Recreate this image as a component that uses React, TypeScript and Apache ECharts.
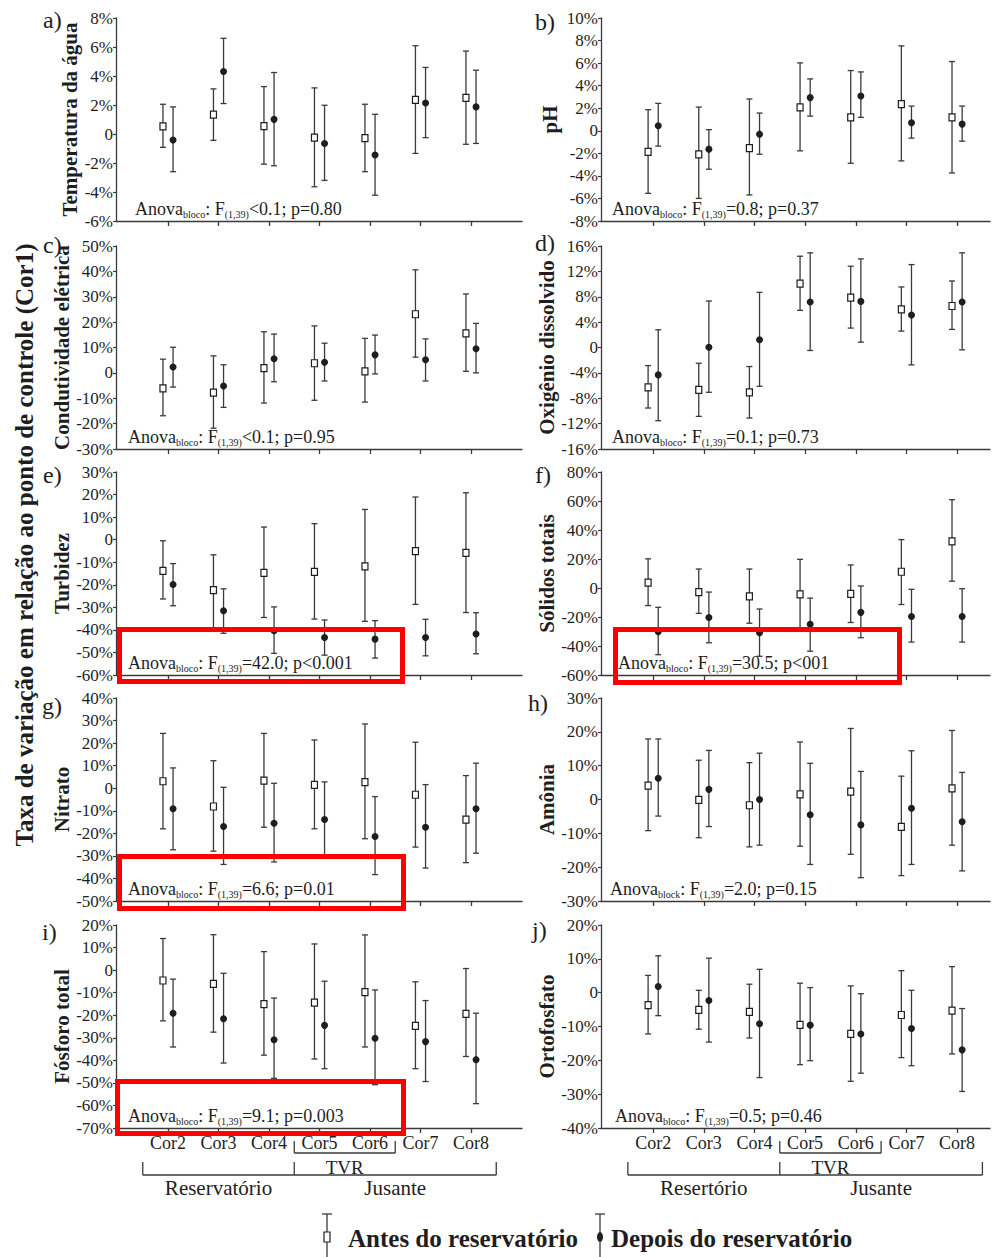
import { useEffect, useRef } from 'react';
import * as echarts from 'echarts';

// Sampling points downstream of the control point Cor1
const stations = ['Cor2', 'Cor3', 'Cor4', 'Cor5', 'Cor6', 'Cor7', 'Cor8'];

// Each row: [lower limit, mean, upper limit] of the variation rate (%) per station
const temperaturaAntes = [[-0.92, 0.53, 2.05], [-0.44, 1.34, 3.11], [-2.08, 0.55, 3.27], [-3.64, -0.25, 3.18], [-2.6, -0.28, 2.05], [-1.34, 2.35, 6.09], [-0.71, 2.49, 5.72]];
const temperaturaDepois = [[-2.6, -0.42, 1.87], [2.1, 4.31, 6.6], [-2.19, 1.01, 4.24], [-3.2, -0.65, 1.98], [-4.22, -1.45, 1.36], [-0.25, 2.14, 4.59], [-0.65, 1.87, 4.4]];

const phAntes = [[-5.55, -1.87, 1.87], [-6.0, -2.1, 2.1], [-5.69, -1.54, 2.82], [-1.78, 2.08, 6.02], [-2.88, 1.19, 5.34], [-2.67, 2.37, 7.53], [-3.74, 1.19, 6.14]];
const phDepois = [[-1.36, 0.44, 2.43], [-3.41, -1.63, 0.1], [-2.08, -0.3, 1.57], [1.3, 2.94, 4.6], [1.19, 3.08, 5.22], [-0.65, 0.71, 2.19], [-0.92, 0.59, 2.19]];

const condutividadeAntes = [[-16.9, -6.1, 5.4], [-21.8, -7.8, 6.7], [-11.9, 1.9, 16.2], [-10.8, 3.8, 18.5], [-11.5, 0.6, 13.6], [6.2, 23.1, 40.6], [0.6, 15.6, 31.1]];
const condutividadeDepois = [[-5.6, 2.3, 10.1], [-13.6, -5.2, 3.2], [-3.5, 5.6, 15.3], [-3.2, 4.2, 11.7], [-0.4, 7.1, 14.9], [-3.2, 5.2, 13.4], [0, 9.5, 19.5]];

const oxigenioAntes = [[-9.54, -6.27, -2.85], [-10.86, -6.69, -2.48], [-11.12, -7.06, -3.0], [5.85, 10.07, 14.39], [3.06, 7.85, 12.81], [2.58, 6.01, 9.54], [2.85, 6.54, 10.49]];
const oxigenioDepois = [[-11.54, -4.32, 2.79], [-7.06, 0.05, 7.33], [-6.11, 1.21, 8.7], [-0.47, 7.17, 14.92], [0.84, 7.27, 13.97], [-2.74, 5.11, 13.07], [-0.37, 7.17, 14.92]];

const turbidezAntes = [[-26.3, -13.8, -0.5], [-39, -22.4, -6.7], [-34.5, -14.7, 5.6], [-35.2, -14.3, 7.1], [-36.2, -11.8, 13.4], [-28.7, -5.1, 18.9], [-32.3, -5.9, 20.8]];
const turbidezDepois = [[-29.3, -19.9, -10.6], [-41.5, -31.5, -21.8], [-50.4, -40.4, -29.8], [-51.2, -43.4, -35.6], [-52.5, -44.1, -35.9], [-51.5, -43.4, -35.3], [-50.6, -41.8, -32.4]];

const solidosAntes = [[-12.1, 3.7, 20.1], [-17.5, -2.8, 13.1], [-24.3, -5.8, 13.1], [-28, -4.4, 19.8], [-23.8, -4.0, 15.9], [-11.4, 11.2, 33.4], [4.7, 32.2, 60.9]];
const solidosDepois = [[-46, -30.1, -13.3], [-37.8, -20.3, -2.8], [-47.1, -30.8, -14.5], [-43.6, -25, -7], [-34.3, -16.8, 1.4], [-37.3, -19.6, -0.9], [-37.3, -19.6, -0.5]];

const nitratoAntes = [[-18, 3.1, 24.3], [-27.9, -8.1, 12.2], [-17.3, 3.4, 24.3], [-18, 1.5, 21.4], [-22.4, 2.7, 28.5], [-26.1, -2.9, 20.4], [-33, -13.9, 5.6]];
const nitratoDepois = [[-27.3, -9.1, 9.0], [-33.8, -17, 0.4], [-32.7, -15.5, 2.2], [-30, -13.9, 2.8], [-38.3, -21.4, -3.7], [-35.4, -17.3, 1.6], [-28.8, -9.1, 11.1]];

const amoniaAntes = [[-9.2, 4.1, 17.9], [-11.3, -0.1, 11.6], [-14, -1.7, 10.9], [-13.8, 1.5, 17], [-16.2, 2.3, 21], [-22.5, -8.1, 6.9], [-13.5, 3.3, 20.4]];
const amoniaDepois = [[-4.9, 6.3, 17.9], [-8, 3, 14.5], [-13.5, 0, 13.7], [-19.2, -4.5, 10.7], [-23.1, -7.5, 8.3], [-19.2, -2.6, 14.4], [-21.1, -6.6, 8]];

const fosforoAntes = [[-22.5, -4.6, 14], [-27.5, -6.1, 15.7], [-37.7, -15.1, 8.2], [-39.4, -14.4, 11.6], [-34.1, -9.8, 15.6], [-43.7, -24.7, -5.2], [-38.3, -19.4, 0.7]];
const fosforoDepois = [[-34.1, -19.1, -4], [-41.2, -21.6, -1.4], [-48, -30.9, -12.4], [-43.7, -24.5, -4.9], [-50.8, -30.2, -8.8], [-49.4, -31.7, -13.5], [-59.2, -39.7, -19.1]];

const ortofosfatoAntes = [[-12.2, -3.7, 5.1], [-10.8, -5.1, 0.7], [-13.4, -5.7, 2.5], [-21.3, -9.5, 2.8], [-26.2, -12.2, 2.0], [-19.2, -6.6, 6.5], [-18.1, -5.3, 7.7]];
const ortofosfatoDepois = [[-6.8, 1.8, 10.9], [-14.6, -2.3, 10.2], [-25.1, -9.2, 6.9], [-20.1, -9.6, 1.5], [-23.8, -12.2, -0.3], [-21.6, -10.6, 0.7], [-29.2, -16.9, -4.7]];

// Station groups shown under the bottom panels (1-based station positions)
const tvrSpan = [4, 5];
const reservoirSpan = [1, 3];
const downstreamSpan = [4, 7];
const groupNamesLeft = ['Reservatório', 'Jusante'];
const groupNamesRight = ['Resertório', 'Jusante'];

const SERIF = "'Liberation Serif', 'Times New Roman', serif";
const LINE = '#3a3a3a';
const INK = '#1e1e1e';

const COL_LEFT = [116, 601];
const COL_WIDTH = [406, 389];
const COL_XMAX = [8.01, 7.65];
const ROW_TOP = [18, 246, 472, 698, 925];
const ROW_HEIGHT = 203;

const panels = [
  { letter: 'a)', name: 'Temperatura da água', antes: temperaturaAntes, depois: temperaturaDepois, min: -6, max: 8, step: 2, sub: 'bloco', stat: '<0.1; p=0.80', nameGap: 36, statX: 135, letterXY: [43, 20] },
  { letter: 'b)', name: 'pH', antes: phAntes, depois: phDepois, min: -8, max: 10, step: 2, sub: 'bloco', stat: '=0.8; p=0.37', nameGap: 41, statX: 612, letterXY: [535, 22] },
  { letter: 'c)', name: 'Condutividade elétrica', antes: condutividadeAntes, depois: condutividadeDepois, min: -30, max: 50, step: 10, sub: 'bloco', stat: '<0.1; p=0.95', nameGap: 33, statX: 128, letterXY: [43, 245] },
  { letter: 'd)', name: 'Oxigênio dissolvido', antes: oxigenioAntes, depois: oxigenioDepois, min: -16, max: 16, step: 4, sub: 'bloco', stat: '=0.1; p=0.73', nameGap: 39, statX: 612, letterXY: [535, 243] },
  { letter: 'e)', name: 'Turbidez', antes: turbidezAntes, depois: turbidezDepois, min: -60, max: 30, step: 10, sub: 'bloco', stat: '=42.0; p<0.001', nameGap: 43, statX: 128, letterXY: [43, 475] },
  { letter: 'f)', name: 'Sólidos totais', antes: solidosAntes, depois: solidosDepois, min: -60, max: 80, step: 20, sub: 'bloco', stat: '=30.5; p<001', nameGap: 41, statX: 618, letterXY: [535, 475] },
  { letter: 'g)', name: 'Nitrato', antes: nitratoAntes, depois: nitratoDepois, min: -50, max: 40, step: 10, sub: 'bloco', stat: '=6.6; p=0.01', nameGap: 43, statX: 128, letterXY: [42, 706] },
  { letter: 'h)', name: 'Amônia', antes: amoniaAntes, depois: amoniaDepois, min: -30, max: 30, step: 10, sub: 'block', stat: '=2.0; p=0.15', nameGap: 39, statX: 610, letterXY: [528, 703] },
  { letter: 'i)', name: 'Fósforo total', antes: fosforoAntes, depois: fosforoDepois, min: -70, max: 20, step: 10, sub: 'bloco', stat: '=9.1; p=0.003', nameGap: 43, statX: 128, letterXY: [42, 932] },
  { letter: 'j)', name: 'Ortofosfato', antes: ortofosfatoAntes, depois: ortofosfatoDepois, min: -40, max: 20, step: 10, sub: 'bloco', stat: '=0.5; p=0.46', nameGap: 42, statX: 615, letterXY: [532, 930] },
];

// Highlight boxes around the significant results (outer bounds)
const highlightBoxes = [
  [117, 627, 405, 684],
  [613, 627, 902, 685],
  [117, 854, 406, 911],
  [115, 1079, 406, 1136],
];

const positions = stations.map((_, i) => i + 1);

function errorBarRenderer(kind: 'antes' | 'depois') {
  return (_params: any, api: any) => {
    const x = api.value(0);
    const lo = api.coord([x, api.value(1)]);
    const mid = api.coord([x, api.value(2)]);
    const hi = api.coord([x, api.value(3)]);
    const cap = 3;
    const ls = { stroke: LINE, lineWidth: 1.3 };
    const marker =
      kind === 'antes'
        ? { type: 'rect', shape: { x: mid[0] - 3, y: mid[1] - 3.5, width: 6, height: 7 }, style: { fill: '#fff', stroke: INK, lineWidth: 1.2 } }
        : { type: 'circle', shape: { cx: mid[0], cy: mid[1], r: 3.5 }, style: { fill: INK } };
    return {
      type: 'group',
      children: [
        { type: 'line', shape: { x1: lo[0], y1: lo[1], x2: hi[0], y2: hi[1] }, style: ls },
        { type: 'line', shape: { x1: hi[0] - cap, y1: hi[1], x2: hi[0] + cap, y2: hi[1] }, style: ls },
        { type: 'line', shape: { x1: lo[0] - cap, y1: lo[1], x2: lo[0] + cap, y2: lo[1] }, style: ls },
        marker,
      ],
    };
  };
}

function groupBracketSeries(idx: number, yMin: number, names: string[]) {
  return {
    type: 'custom',
    xAxisIndex: idx,
    yAxisIndex: idx,
    silent: true,
    clip: false,
    data: [[1, yMin]],
    renderItem: (_params: any, api: any) => {
      const px = (v: number) => api.coord([v, yMin])[0];
      const y0 = api.coord([1, yMin])[1];
      const st = { stroke: LINE, lineWidth: 1.3, fill: 'none' };
      const ln = (x1: number, y1: number, x2: number, y2: number) => ({ type: 'line', shape: { x1, y1, x2, y2 }, style: st });
      const txt = (x: number, y: number, text: string, size: number) => ({
        type: 'text',
        x,
        y,
        style: { text, font: `${size}px ${SERIF}`, fill: INK, align: 'center', verticalAlign: 'middle', textAlign: 'center', textVerticalAlign: 'middle' },
      });
      const t0 = px(tvrSpan[0] - 0.5);
      const t1 = px(tvrSpan[1] + 0.5);
      const r0 = px(reservoirSpan[0] - 0.5);
      const r1 = px(reservoirSpan[1] + 0.5);
      const d1 = px(downstreamSpan[1] + 0.5);
      return {
        type: 'group',
        children: [
          ln(t0, y0 + 13, t0, y0 + 25),
          ln(t1, y0 + 13, t1, y0 + 25),
          ln(t0, y0 + 25, t1, y0 + 25),
          txt((t0 + t1) / 2, y0 + 39, 'TVR', 19),
          ln(r0, y0 + 34, r0, y0 + 47),
          ln(r1, y0 + 34, r1, y0 + 47),
          ln(d1, y0 + 34, d1, y0 + 47),
          ln(r0, y0 + 47, d1, y0 + 47),
          txt(px((reservoirSpan[0] + reservoirSpan[1]) / 2), y0 + 60, names[0], 21),
          txt(px((downstreamSpan[0] + downstreamSpan[1]) / 2), y0 + 60, names[1], 21),
        ],
      };
    },
  };
}

function buildOption() {
  const grid = panels.map((_, i) => ({
    left: COL_LEFT[i % 2],
    width: COL_WIDTH[i % 2],
    top: ROW_TOP[Math.floor(i / 2)],
    height: ROW_HEIGHT,
  }));

  const xAxis = panels.map((_, i) => ({
    type: 'value',
    gridIndex: i,
    min: -0.03,
    max: COL_XMAX[i % 2],
    axisLine: { show: true, onZero: false, lineStyle: { color: LINE, width: 1.3 } },
    axisTick: { show: true, customValues: positions, length: 5, lineStyle: { color: LINE, width: 1.3 } },
    axisLabel: {
      show: Math.floor(i / 2) === 4,
      customValues: positions,
      formatter: (v: number) => stations[Math.round(v) - 1] ?? '',
      margin: 6,
      fontFamily: SERIF,
      fontSize: 18,
      color: INK,
    },
    splitLine: { show: false },
  }));

  const yAxis = panels.map((p, i) => ({
    type: 'value',
    gridIndex: i,
    min: p.min,
    max: p.max,
    interval: p.step,
    axisLine: { show: true, onZero: false, lineStyle: { color: LINE, width: 1.3 } },
    axisTick: { show: true, length: 3, lineStyle: { color: LINE, width: 1.2 } },
    axisLabel: {
      formatter: (v: number) => (v === 0 ? '0' : `${v}%`),
      fontFamily: SERIF,
      fontSize: 17,
      color: INK,
      margin: 3,
    },
    splitLine: { show: false },
    name: p.name,
    nameLocation: 'middle',
    nameGap: p.nameGap,
    nameTextStyle: { fontFamily: SERIF, fontWeight: 'bold', fontSize: 21, color: INK },
  }));

  const series: any[] = [];
  panels.forEach((p, i) => {
    series.push({
      type: 'custom',
      name: 'Antes do reservatório',
      xAxisIndex: i,
      yAxisIndex: i,
      silent: true,
      encode: { x: 0, y: [1, 2, 3] },
      data: p.antes.map((r, k) => [positions[k] - 0.1, r[0], r[1], r[2]]),
      renderItem: errorBarRenderer('antes'),
    });
    series.push({
      type: 'custom',
      name: 'Depois do reservatório',
      xAxisIndex: i,
      yAxisIndex: i,
      silent: true,
      encode: { x: 0, y: [1, 2, 3] },
      data: p.depois.map((r, k) => [positions[k] + 0.1, r[0], r[1], r[2]]),
      renderItem: errorBarRenderer('depois'),
    });
  });
  series.push(groupBracketSeries(8, panels[8].min, groupNamesLeft));
  series.push(groupBracketSeries(9, panels[9].min, groupNamesRight));

  const elements: any[] = [];

  elements.push({
    type: 'text',
    x: 24,
    y: 545,
    rotation: Math.PI / 2,
    style: {
      text: 'Taxa de variação em relação ao ponto de controle (Cor1)',
      font: `bold 25px ${SERIF}`,
      fill: INK,
      align: 'center',
      verticalAlign: 'middle',
      textAlign: 'center',
      textVerticalAlign: 'middle',
    },
  });

  panels.forEach((p, i) => {
    const bottom = ROW_TOP[Math.floor(i / 2)] + ROW_HEIGHT;
    elements.push({
      type: 'text',
      x: p.letterXY[0],
      y: p.letterXY[1],
      style: { text: p.letter, font: `24px ${SERIF}`, fill: INK, align: 'left', verticalAlign: 'middle', textAlign: 'left', textVerticalAlign: 'middle' },
    });
    elements.push({
      type: 'text',
      x: p.statX,
      y: bottom - 12,
      style: {
        text: `{m|Anova}{s|${p.sub}}{m|: F}{s|(1,39)}{m|${p.stat}}`,
        font: `18px ${SERIF}`,
        fill: INK,
        align: 'left',
        verticalAlign: 'middle',
        textAlign: 'left',
        textVerticalAlign: 'middle',
        rich: {
          m: { fontSize: 18, fontFamily: SERIF, fill: INK, lineHeight: 20 },
          s: { fontSize: 10, fontFamily: SERIF, fill: INK, lineHeight: 9, verticalAlign: 'bottom' },
        },
      },
    });
  });

  highlightBoxes.forEach(([x0, y0, x1, y1]) => {
    elements.push({
      type: 'rect',
      z: 100,
      shape: { x: x0 + 2.5, y: y0 + 2.5, width: x1 - x0 - 5, height: y1 - y0 - 5 },
      style: { fill: 'none', stroke: '#ff0000', lineWidth: 5 },
    });
  });

  // Legend: whisker with open square / filled dot
  const legendY = 1237;
  const legendItems = [
    { x: 327, textX: 348, label: 'Antes do reservatório', open: true },
    { x: 600, textX: 611, label: 'Depois do reservatório', open: false },
  ];
  legendItems.forEach((it) => {
    elements.push({ type: 'line', shape: { x1: it.x, y1: 1214, x2: it.x, y2: 1260 }, style: { stroke: LINE, lineWidth: 1.3 } });
    elements.push({ type: 'line', shape: { x1: it.x - 5, y1: 1214, x2: it.x + 5, y2: 1214 }, style: { stroke: LINE, lineWidth: 1.3 } });
    elements.push(
      it.open
        ? { type: 'rect', shape: { x: it.x - 3, y: legendY - 5, width: 6, height: 10 }, style: { fill: '#fff', stroke: INK, lineWidth: 1.2 } }
        : { type: 'ellipse', shape: { cx: it.x, cy: legendY, rx: 3, ry: 5 }, style: { fill: INK } }
    );
    elements.push({
      type: 'text',
      x: it.textX,
      y: legendY + 1,
      style: { text: it.label, font: `bold 25px ${SERIF}`, fill: INK, align: 'left', verticalAlign: 'middle', textAlign: 'left', textVerticalAlign: 'middle' },
    });
  });

  return {
    animation: false,
    backgroundColor: '#ffffff',
    grid,
    xAxis,
    yAxis,
    series,
    graphic: { elements },
  };
}

export default function App() {
  const ref = useRef<HTMLDivElement>(null);
  useEffect(() => {
    if (!ref.current) return;
    const chart = echarts.init(ref.current, undefined, { renderer: 'svg' });
    chart.setOption(buildOption() as any);
    return () => chart.dispose();
  }, []);
  return <div ref={ref} style={{ position: 'absolute', left: 0, top: 0, width: 996, height: 1257, background: '#fff' }} />;
}
